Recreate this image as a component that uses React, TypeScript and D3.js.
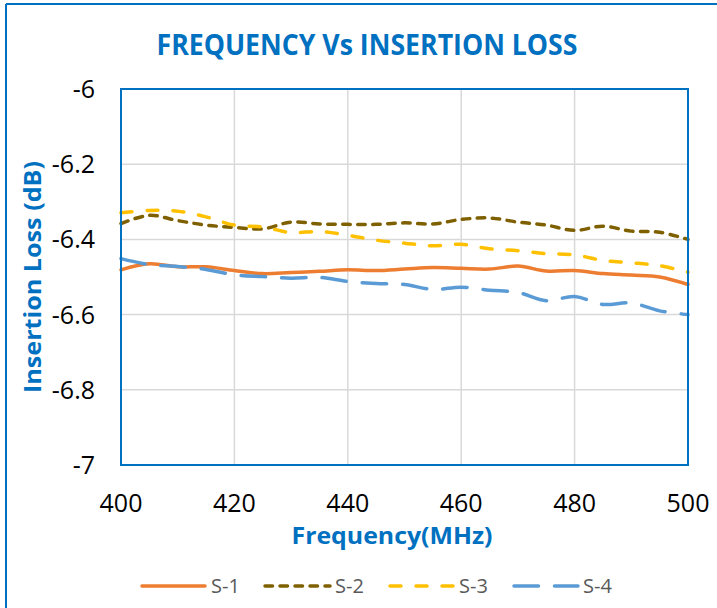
import React from "react";
import * as d3 from "d3";

const frequencies = [400, 405, 410, 415, 420, 425, 430, 435, 440, 445, 450, 455, 460, 465, 470, 475, 480, 485, 490, 495, 500];

const s1 = [-6.481, -6.465, -6.473, -6.473, -6.483, -6.491, -6.488, -6.485, -6.481, -6.483, -6.479, -6.475, -6.477, -6.479, -6.471, -6.484, -6.483, -6.491, -6.495, -6.5, -6.52];
const s2 = [-6.358, -6.336, -6.35, -6.362, -6.368, -6.372, -6.354, -6.359, -6.36, -6.36, -6.356, -6.359, -6.347, -6.343, -6.354, -6.362, -6.376, -6.365, -6.378, -6.381, -6.4];
const s3 = [-6.329, -6.323, -6.325, -6.34, -6.362, -6.367, -6.382, -6.379, -6.389, -6.402, -6.41, -6.417, -6.413, -6.425, -6.43, -6.438, -6.441, -6.456, -6.462, -6.47, -6.487];
const s4 = [-6.451, -6.467, -6.472, -6.48, -6.494, -6.499, -6.503, -6.501, -6.512, -6.517, -6.52, -6.533, -6.527, -6.535, -6.541, -6.563, -6.552, -6.573, -6.569, -6.59, -6.6];

const seriesNames = ["S-1", "S-2", "S-3", "S-4"];
const xTicks = [400, 420, 440, 460, 480, 500];
const yTicks = [-6, -6.2, -6.4, -6.6, -6.8, -7];

const seriesStyles = [
  { color: "#ED7D31", dash: "none" },
  { color: "#7F6000", dash: "7.5 7.5" },
  { color: "#FFC000", dash: "11 15" },
  { color: "#5B9BD5", dash: "24.5 16" },
];

const BLUE = "#0070C0";
const FONT = "'Open Sans', sans-serif";

export default function App() {
  const W = 717;
  const H = 608;
  const left = 121;
  const right = 688;
  const top = 89;
  const bottom = 465;

  const x = d3.scaleLinear().domain([400, 500]).range([left, right]);
  const y = d3.scaleLinear().domain([-7, -6]).range([bottom, top]);

  const allSeries = [s1, s2, s3, s4];
  const line = d3
    .line<number>()
    .x((_, i) => x(frequencies[i]))
    .y((d) => y(d))
    .curve(d3.curveCatmullRom);

  const legendItems = [
    { x1: 142, x2: 205, tx: 211 },
    { x1: 265, x2: 330, tx: 335 },
    { x1: 390, x2: 453, tx: 459 },
    { x1: 514, x2: 578, tx: 583 },
  ];

  return (
    <svg
      width={W}
      height={H}
      style={{ position: "absolute", left: 0, top: 0, background: "#fff" }}
      fontFamily={FONT}
    >
      <rect x={0} y={0} width={W} height={H} fill="#fff" />
      {/* outer chart frame */}
      <line x1={6} y1={4} x2={W} y2={4} stroke={BLUE} strokeWidth={2} />
      <line x1={6} y1={4} x2={6} y2={H} stroke={BLUE} strokeWidth={2} />

      {/* title */}
      <text
        x={367}
        y={54.5}
        textAnchor="middle"
        fill={BLUE}
        fontWeight="bold"
        fontSize={28}
        textLength={421}
        lengthAdjust="spacingAndGlyphs"
      >
        FREQUENCY Vs INSERTION LOSS
      </text>

      {/* gridlines */}
      {xTicks.slice(1, -1).map((t) => (
        <line key={"gx" + t} x1={x(t)} x2={x(t)} y1={top} y2={bottom} stroke="#D9D9D9" strokeWidth={1.5} />
      ))}
      {yTicks.slice(1, -1).map((t) => (
        <line key={"gy" + t} x1={left} x2={right} y1={y(t)} y2={y(t)} stroke="#D9D9D9" strokeWidth={1.5} />
      ))}

      {/* series */}
      {allSeries.map((s, i) => (
        <path
          key={seriesNames[i]}
          d={line(s) || ""}
          fill="none"
          stroke={seriesStyles[i].color}
          strokeWidth={3.5}
          strokeDasharray={seriesStyles[i].dash}
          strokeLinecap="round"
          strokeLinejoin="round"
        />
      ))}

      {/* plot border */}
      <rect x={left} y={top} width={right - left} height={bottom - top} fill="none" stroke={BLUE} strokeWidth={2} />

      {/* y tick labels */}
      {yTicks.map((t) => (
        <text key={"yt" + t} x={95} y={y(t)} dy="0.36em" textAnchor="end" fontSize={25} fill="#000">
          {d3.format("")(t).replace("\u2212", "-")}
        </text>
      ))}

      {/* x tick labels */}
      {xTicks.map((t) => (
        <text key={"xt" + t} x={x(t)} y={512} textAnchor="middle" fontSize={25} fill="#000">
          {t}
        </text>
      ))}

      {/* axis titles */}
      <text x={392} y={544} textAnchor="middle" fill={BLUE} fontWeight="bold" fontSize={24} textLength={201} lengthAdjust="spacingAndGlyphs">
        Frequency(MHz)
      </text>
      <text
        transform={`translate(41, 277) rotate(-90)`}
        textAnchor="middle"
        fill={BLUE}
        fontWeight="bold"
        fontSize={24}
        textLength={232}
        lengthAdjust="spacingAndGlyphs"
      >
        Insertion Loss (dB)
      </text>

      {/* legend */}
      {legendItems.map((it, i) => (
        <g key={"lg" + i}>
          <line
            x1={it.x1}
            x2={it.x2}
            y1={586}
            y2={586}
            stroke={seriesStyles[i].color}
            strokeWidth={3.5}
            strokeDasharray={seriesStyles[i].dash}
            strokeLinecap="round"
          />
          <text x={it.tx} y={593} fontSize={20} fill="#595959">
            {seriesNames[i]}
          </text>
        </g>
      ))}
    </svg>
  );
}
